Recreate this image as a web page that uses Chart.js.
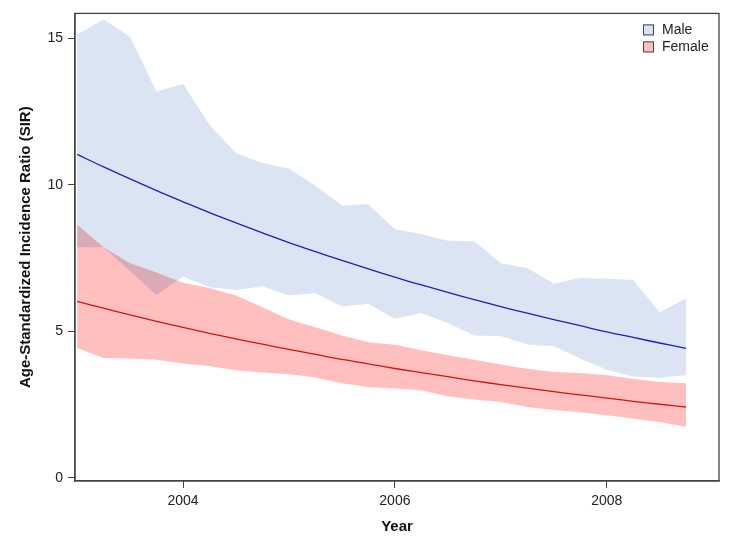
<!DOCTYPE html>
<html>
<head>
<meta charset="utf-8">
<script src="https://cdn.jsdelivr.net/npm/chart.js@4/dist/chart.umd.min.js"></script>
<style>
  html, body { margin: 0; padding: 0; background: #fff; }
  #wrap { width: 731px; height: 548px; }
</style>
</head>
<body>
<div id="wrap"><canvas id="sirChart" width="731" height="548"></canvas></div>
<script>
// -------------------- Data --------------------
const years = [2003.00, 2003.25, 2003.50, 2003.75, 2004.00, 2004.25, 2004.50, 2004.75,
               2005.00, 2005.25, 2005.50, 2005.75, 2006.00, 2006.25, 2006.50, 2006.75,
               2007.00, 2007.25, 2007.50, 2007.75, 2008.00, 2008.25, 2008.50, 2008.75];

const maleFit   = [11.04, 10.61, 10.20, 9.80, 9.42, 9.05, 8.70, 8.36, 8.03, 7.72, 7.42, 7.13,
                   6.85, 6.58, 6.33, 6.08, 5.84, 5.62, 5.40, 5.19, 4.98, 4.79, 4.60, 4.42];
const maleUpper = [15.13, 15.64, 15.05, 13.18, 13.45, 12.04, 11.08, 10.74, 10.56, 9.97, 9.29, 9.34,
                   8.48, 8.32, 8.09, 8.07, 7.32, 7.16, 6.62, 6.82, 6.79, 6.75, 5.65, 6.13];
const maleLower = [7.87, 7.87, 7.05, 6.24, 6.87, 6.50, 6.41, 6.54, 6.22, 6.31, 5.85, 5.94,
                   5.43, 5.62, 5.28, 4.86, 4.84, 4.55, 4.49, 4.07, 3.69, 3.46, 3.42, 3.50];

const femaleFit   = [6.02, 5.79, 5.56, 5.34, 5.13, 4.93, 4.74, 4.56, 4.38, 4.21, 4.04, 3.89,
                     3.73, 3.59, 3.45, 3.31, 3.18, 3.06, 2.94, 2.83, 2.72, 2.61, 2.51, 2.41];
const femaleUpper = [8.64, 7.87, 7.32, 7.01, 6.66, 6.48, 6.22, 5.82, 5.40, 5.14, 4.86, 4.63,
                     4.54, 4.35, 4.18, 4.03, 3.87, 3.72, 3.61, 3.58, 3.50, 3.38, 3.27, 3.23];
const femaleLower = [4.43, 4.09, 4.07, 4.03, 3.90, 3.81, 3.67, 3.59, 3.53, 3.42, 3.23, 3.10,
                     3.05, 2.99, 2.78, 2.67, 2.59, 2.42, 2.31, 2.24, 2.13, 2.02, 1.90, 1.74];

const xTicks = [2004, 2006, 2008];
const yTicks = [0, 5, 10, 15];

const legendItems = [
  { label: 'Male',   color: '#dbe4f2' },
  { label: 'Female', color: '#ffbfbf' }
];

const FONT = '"Liberation Sans", Arial, sans-serif';

function pts(vals) {
  return years.map((yr, i) => ({ x: yr, y: vals[i] }));
}

// -------------------- Plugins --------------------
// bands are multiplied so the male/female overlap gets darker
const blendBands = {
  id: 'blendBands',
  beforeDraw(chart) {
    const ctx = chart.ctx;
    ctx.save();
    ctx.fillStyle = '#fff';
    ctx.fillRect(0, 0, chart.width, chart.height);
    ctx.restore();
  },
  beforeDatasetsDraw(chart) {
    chart.ctx.save();
    chart.ctx.globalCompositeOperation = 'multiply';
  },
  afterDatasetsDraw(chart) {
    chart.ctx.restore();
  }
};

// frame round the plot area + legend in the top right corner
const frameAndLegend = {
  id: 'frameAndLegend',
  afterDraw(chart) {
    const { ctx, chartArea: a } = chart;
    ctx.save();
    ctx.strokeStyle = '#444';
    ctx.lineWidth = 1.3;
    ctx.strokeRect(a.left, a.top, a.right - a.left, a.bottom - a.top);

    ctx.font = '14px ' + FONT;
    ctx.textBaseline = 'middle';
    ctx.textAlign = 'left';
    const boxX = a.right - 76;
    legendItems.forEach((item, i) => {
      const cy = a.top + 16 + i * 17;
      ctx.fillStyle = item.color;
      ctx.fillRect(boxX, cy - 5, 11, 11);
      ctx.strokeStyle = '#444';
      ctx.lineWidth = 1;
      ctx.strokeRect(boxX + 0.5, cy - 4.5, 10, 10);
      ctx.fillStyle = '#222';
      ctx.fillText(item.label, boxX + 19, cy + 1);
    });
    ctx.restore();
  }
};

// -------------------- Chart --------------------
const bandStyle = { borderWidth: 0, pointRadius: 0, tension: 0 };
const lineStyle = { borderWidth: 1.3, pointRadius: 0, tension: 0.4, fill: false };

const ctx = document.getElementById('sirChart').getContext('2d');
const chart = new Chart(ctx, {
  type: 'line',
  data: {
    datasets: [
      { label: 'Male upper', data: pts(maleUpper), fill: '+1', backgroundColor: '#dbe4f2', order: 4, ...bandStyle },
      { label: 'Male lower', data: pts(maleLower), fill: false, order: 4, ...bandStyle },
      { label: 'Female upper', data: pts(femaleUpper), fill: '+1', backgroundColor: '#ffbfbf', order: 3, ...bandStyle },
      { label: 'Female lower', data: pts(femaleLower), fill: false, order: 3, ...bandStyle },
      { label: 'Male', data: pts(maleFit), borderColor: '#2222c4', order: 1, ...lineStyle },
      { label: 'Female', data: pts(femaleFit), borderColor: '#d41818', order: 1, ...lineStyle }
    ]
  },
  options: {
    responsive: false,
    animation: false,
    layout: { padding: { top: 12, right: 12, left: 17, bottom: 12 } },
    plugins: {
      legend: { display: false },
      tooltip: { enabled: false },
      filler: { propagate: false }
    },
    scales: {
      x: {
        type: 'linear',
        min: 2002.98,
        max: 2009.06,
        afterBuildTicks: (s) => { s.ticks = xTicks.map(v => ({ value: v })); },
        afterFit: (s) => { s.height = 55; },
        grid: { drawOnChartArea: false, drawTicks: true, tickLength: 7, color: '#444', lineWidth: 1 },
        border: { display: true, color: '#444', width: 1.3 },
        ticks: { color: '#222', font: { family: FONT, size: 14 }, padding: 5, maxRotation: 0,
                 callback: (v) => String(v) },
        title: { display: true, text: 'Year', color: '#111',
                 font: { family: FONT, size: 15, weight: 'bold' }, padding: { top: 4, bottom: 0 } }
      },
      y: {
        type: 'linear',
        min: -0.11,
        max: 15.85,
        afterBuildTicks: (s) => { s.ticks = yTicks.map(v => ({ value: v })); },
        afterFit: (s) => { s.width = 58; },
        grid: { drawOnChartArea: false, drawTicks: true, tickLength: 7, color: '#444', lineWidth: 1 },
        border: { display: true, color: '#444', width: 1.3 },
        ticks: { color: '#222', font: { family: FONT, size: 14 }, padding: 5 },
        title: { display: true, text: 'Age-Standardized Incidence Ratio (SIR)', color: '#111',
                 font: { family: FONT, size: 15, weight: 'bold' }, padding: { top: 0, bottom: 12 } }
      }
    }
  },
  plugins: [blendBands, frameAndLegend]
});
</script>
</body>
</html>
